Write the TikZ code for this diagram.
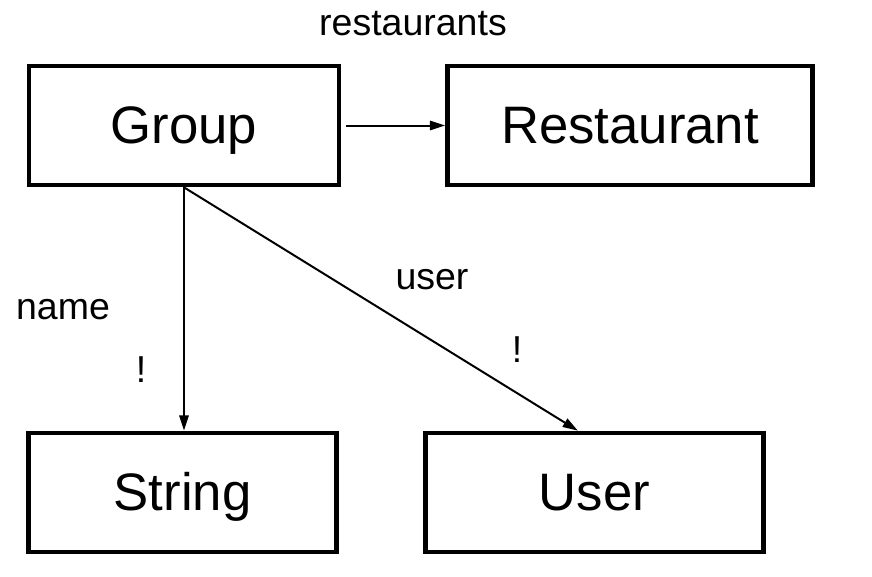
\documentclass[tikz,border=0pt]{standalone}
\usepackage{fontspec}
\setmainfont{Liberation Sans}
\usetikzlibrary{arrows.meta}

\begin{document}
\begin{tikzpicture}[x=0.03cm,y=-0.03cm,
    box/.style={draw,line width=4pt,minimum height=3.57cm,text height=32pt,text depth=2pt,font=\fontsize{45}{50}\selectfont},
    link/.style={line width=1.7pt,-{Triangle[length=13pt,width=8pt]}},
    lbl/.style={font=\fontsize{32}{36}\selectfont}]
    % page frame, 872 x 576
    \useasboundingbox (0,0) rectangle (872,576);

    % the four types
    \node[box,minimum width=9.3cm] (group) at (184,125.5) {Group};
    \node[box,minimum width=10.95cm] (restaurant) at (630,125.5) {Restaurant};
    \node[box,minimum width=9.24cm] (string) at (182.5,492.5) {String};
    \node[box,minimum width=10.14cm] (user) at (594.5,492.5) {User};

    % fields
    \draw[link,shorten <=4pt] (group.east) -- (restaurant.west);
    \draw[link] (group.south) -- (group.south |- string.north);
    \draw[link] (group.south) -- ([xshift=-0.5cm]user.north);

    \node[lbl] (restaurantslbl) at (413,24) {restaurants};
    \node[lbl] (namelbl) at (63,310) {name};
    \node[lbl] (namebang) at (141,370) {!};
    \node[lbl] (userlbl) at (432,280) {user};
    \node[lbl] (userbang) at (517,350) {!};
\end{tikzpicture}
\end{document}
